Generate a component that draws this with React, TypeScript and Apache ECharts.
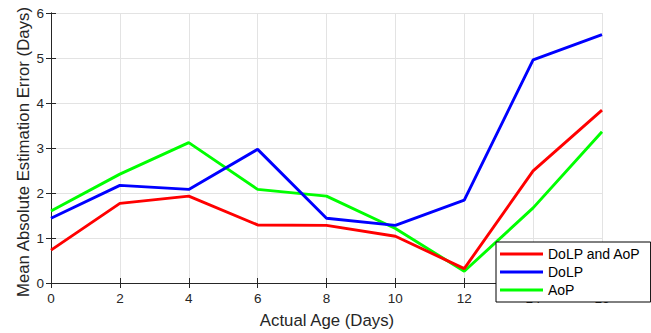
import React, { useEffect, useRef } from "react";
import * as echarts from "echarts";

const ages = [0, 2, 4, 6, 8, 10, 12, 14, 16];
const dolpAop = [0.73, 1.77, 1.93, 1.29, 1.28, 1.04, 0.32, 2.49, 3.84];
const dolp = [1.44, 2.17, 2.08, 2.97, 1.44, 1.28, 1.84, 4.96, 5.52];
const aop = [1.6, 2.42, 3.12, 2.08, 1.93, 1.21, 0.26, 1.67, 3.36];
const seriesNames = ["DoLP and AoP", "DoLP", "AoP"];
const seriesColors = ["#ff0000", "#0000ff", "#00ff00"];
const xTitle = "Actual Age (Days)";
const yTitle = "Mean Absolute Estimation Error (Days)";

const FONT = "'Liberation Sans', Arial, sans-serif";

export default function App() {
  const ref = useRef<HTMLDivElement>(null);
  useEffect(() => {
    if (!ref.current) return;
    document.body.style.margin = "0";
    const chart = echarts.init(ref.current, undefined, { renderer: "svg" });
    const datas = [dolpAop, dolp, aop];
    const axisLine = { show: true, lineStyle: { color: "#262626", width: 1 } };
    chart.setOption({
      animation: false,
      textStyle: { fontFamily: FONT },
      grid: { left: 51, right: 49, top: 13, bottom: 50, containLabel: false },
      graphic: [
        {
          type: "text",
          x: 327,
          y: 320,
          style: {
            text: xTitle,
            fontFamily: FONT,
            fontSize: 16.8,
            fill: "#262626",
            align: "center",
            verticalAlign: "middle",
          },
        },
        {
          type: "text",
          x: 23,
          y: 152,
          rotation: Math.PI / 2,
          style: {
            text: yTitle,
            fontFamily: FONT,
            fontSize: 16.8,
            fill: "#262626",
            align: "center",
            verticalAlign: "middle",
          },
        },
      ],
      legend: {
        orient: "vertical",
        left: 496,
        top: 242,
        width: 145,
        data: seriesNames,
        icon: "rect",
        itemWidth: 43,
        itemHeight: 3,
        itemGap: 4,
        padding: [5, 10, 5, 4],
        borderColor: "#000",
        borderWidth: 1,
        backgroundColor: "#fff",
        textStyle: { fontFamily: FONT, fontSize: 14, color: "#000", padding: [0, 0, 0, 0] },
      },
      xAxis: [
        {
          type: "value",
          min: 0,
          max: 16,
          interval: 2,
          axisLine,
          axisTick: { show: true, inside: true, length: 5, lineStyle: { color: "#262626" } },
          axisLabel: { fontFamily: FONT, fontSize: 13.5, color: "#262626", margin: 8 },
          splitLine: { show: true, lineStyle: { color: "#e3e3e3", width: 1 } },
        },
        {
          type: "value",
          position: "top",
          min: 0,
          max: 16,
          interval: 2,
          axisLine,
          axisTick: { show: true, inside: true, length: 5, lineStyle: { color: "#262626" } },
          axisLabel: { show: false },
          splitLine: { show: false },
        },
      ],
      yAxis: [
        {
          type: "value",
          min: 0,
          max: 6,
          interval: 1,
          axisLine,
          axisTick: { show: true, inside: true, length: 5, lineStyle: { color: "#262626" } },
          axisLabel: { fontFamily: FONT, fontSize: 13.5, color: "#262626", margin: 7 },
          splitLine: { show: true, lineStyle: { color: "#e3e3e3", width: 1 } },
        },
        {
          type: "value",
          position: "right",
          min: 0,
          max: 6,
          interval: 1,
          axisLine,
          axisTick: { show: true, inside: true, length: 5, lineStyle: { color: "#262626" } },
          axisLabel: { show: false },
          splitLine: { show: false },
        },
      ],
      series: seriesNames.map((name, i) => ({
        name,
        type: "line",
        xAxisIndex: 0,
        yAxisIndex: 0,
        data: ages.map((a, j) => [a, datas[i][j]]),
        symbol: "none",
        lineStyle: { color: seriesColors[i], width: 2.9 },
        itemStyle: { color: seriesColors[i] },
        z: 3 - i,
      })),
    });
    return () => chart.dispose();
  }, []);
  return (
    <div
      ref={ref}
      style={{ position: "fixed", left: 0, top: 0, width: 651, height: 333, background: "#fff" }}
    />
  );
}
